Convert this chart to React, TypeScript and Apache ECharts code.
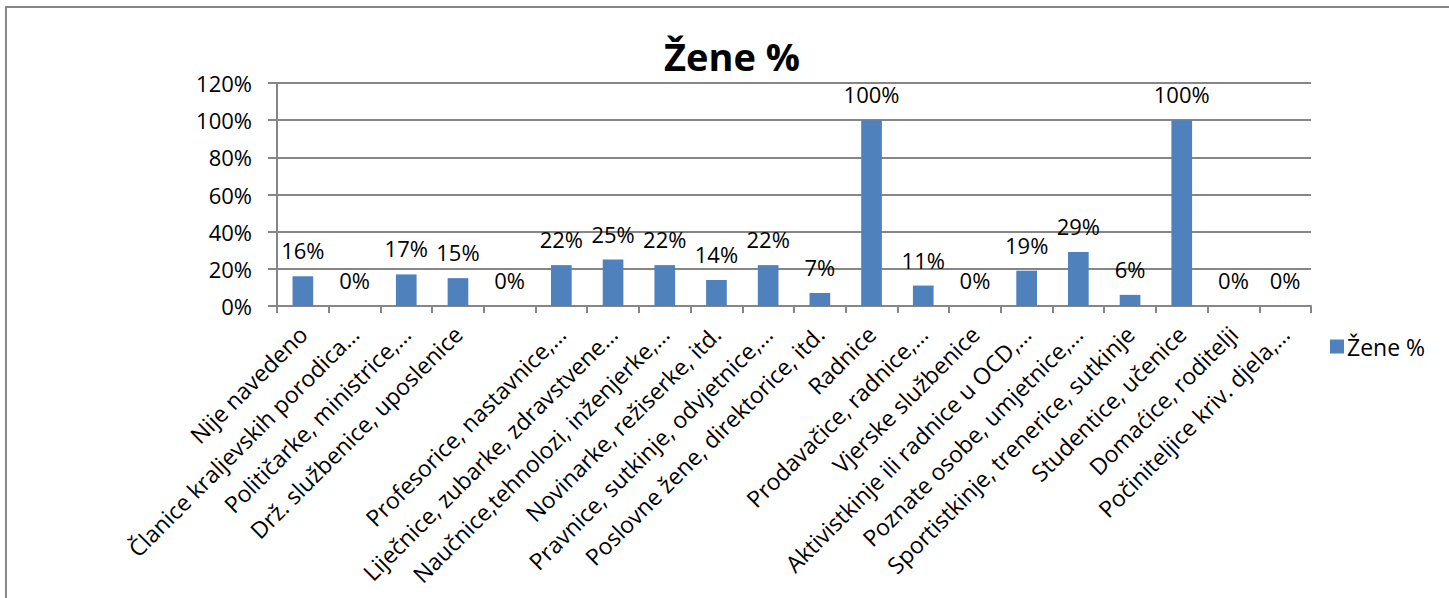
import React, { useEffect, useRef } from "react";
import * as echarts from "echarts";

const categories = [
  "Nije navedeno",
  "Članice kraljevskih porodica…",
  "Političarke, ministrice,…",
  "Drž. službenice, uposlenice",
  "",
  "Profesorice, nastavnice,…",
  "Liječnice, zubarke, zdravstvene…",
  "Naučnice,tehnolozi, inženjerke,…",
  "Novinarke, režiserke, itd.",
  "Pravnice, sutkinje, odvjetnice,…",
  "Poslovne žene, direktorice, itd.",
  "Radnice",
  "Prodavačice, radnice,…",
  "Vjerske službenice",
  "Aktivistkinje ili radnice u OCD,…",
  "Poznate osobe, umjetnice,…",
  "Sportistkinje, trenerice, sutkinje",
  "Studentice, učenice",
  "Domaćice, roditelji",
  "Počiniteljice kriv. djela,…",
];

const zeneValues = [16, 0, 17, 15, 0, 22, 25, 22, 14, 22, 7, 100, 11, 0, 19, 29, 6, 100, 0, 0];

const seriesName = "Žene %";
const chartTitle = "Žene %";

const FONT = "'Open Sans', 'DejaVu Sans', sans-serif";
const GRAY = "#868686";

export default function App() {
  const ref = useRef<HTMLDivElement>(null);
  useEffect(() => {
    if (!ref.current) return;
    const chart = echarts.init(ref.current, undefined, { renderer: "svg" });
    chart.setOption({
      animation: false,
      backgroundColor: "#ffffff",
      textStyle: { fontFamily: FONT },
      title: {
        text: chartTitle,
        left: 659,
        top: 32,
        textStyle: { fontFamily: FONT, fontWeight: "bold", fontSize: 38, color: "#000" },
      },
      graphic: [
        {
          type: "rect",
          shape: { x: 6, y: 7, width: 1500, height: 700 },
          style: { fill: "none", stroke: GRAY, lineWidth: 2 },
          silent: true,
        },
      ],
      legend: {
        data: [seriesName],
        left: 1325,
        top: 330,
        icon: "rect",
        itemWidth: 14,
        itemHeight: 14,
        itemGap: 6,
        textStyle: { fontFamily: FONT, fontSize: 23, color: "#000", padding: [0, 0, 0, -2] },
      },
      grid: { left: 277, right: 138, top: 83, bottom: 292, containLabel: false },
      xAxis: {
        type: "category",
        data: categories,
        axisLine: { show: true, lineStyle: { color: GRAY, width: 2 } },
        axisTick: { show: true, length: 7, lineStyle: { color: GRAY, width: 2 } },
        axisLabel: {
          interval: 0,
          rotate: 45,
          margin: 24,
          fontFamily: FONT,
          fontSize: 23,
          color: "#000",
        },
      },
      yAxis: {
        type: "value",
        min: 0,
        max: 120,
        interval: 20,
        axisLine: { show: true, lineStyle: { color: GRAY, width: 2 } },
        axisTick: { show: true, length: 9, lineStyle: { color: GRAY, width: 2 } },
        splitLine: { show: true, lineStyle: { color: GRAY, width: 2 } },
        axisLabel: {
          formatter: "{value}%",
          margin: 25,
          fontFamily: FONT,
          fontSize: 22,
          color: "#000",
        },
      },
      series: [
        {
          name: seriesName,
          type: "bar",
          data: zeneValues,
          barCategoryGap: "60%",
          itemStyle: { color: "#4F81BD" },
          label: {
            show: true,
            position: "top",
            distance: 15,
            formatter: "{c}%",
            fontFamily: FONT,
            fontSize: 22,
            color: "#000",
          },
        },
      ],
    });
    return () => chart.dispose();
  }, []);
  return (
    <div
      ref={ref}
      style={{ position: "absolute", left: 0, top: 0, width: 1449, height: 598 }}
    />
  );
}
